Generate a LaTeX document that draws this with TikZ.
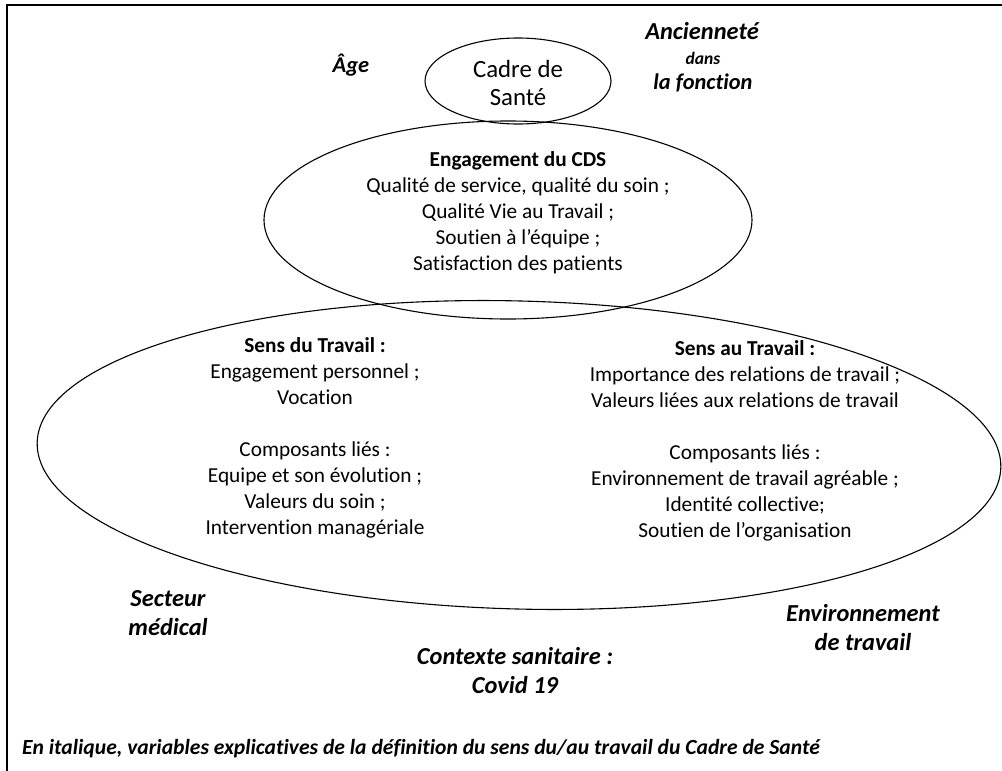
\documentclass[tikz,border=0pt]{standalone}
\usepackage{fontspec}
\setmainfont{Carlito}[Ligatures=NoCommon]
\begin{document}
\begin{tikzpicture}[x=1pt,y=-1pt,
  body/.style={align=center,font=\fontsize{21.3}{26}\selectfont,inner sep=0pt},
  var/.style={align=center,font=\fontsize{24.4}{29}\selectfont\bfseries\itshape,inner sep=0pt},
  ring/.style={draw=black,line width=1.1pt}]
\useasboundingbox (0,0) rectangle (1002,771);
\coordinate (tl) at (7,5);
\coordinate (tr) at (1002,5);
\coordinate (bl) at (7,771);
\draw[line width=2pt] (tr) -- (tl) -- (bl);
% ellipses
\draw[ring] (518,81) ellipse [x radius=93, y radius=43];
\draw[ring] (508,220) ellipse [x radius=244, y radius=99];
\draw[ring,rotate around={-1.5:(519,455)}] (519,455) ellipse [x radius=482, y radius=154];
% texts
\node[body,font=\fontsize{24.8}{28}\selectfont] (cds) at (518,83) {Cadre de\\Santé};
\node[body] (eng) at (518,213) {\textbf{Engagement du CDS}\\Qualité de service, qualité du soin ;\\Qualité Vie au Travail ;\\Soutien à l’équipe ;\\Satisfaction des patients};
\node[body] (sdt) at (315,438) {\textbf{Sens du Travail :}\\Engagement personnel ;\\Vocation\\[26pt]Composants liés :\\Equipe et son évolution ;\\Valeurs du soin ;\\Intervention managériale};
\node[body] (sat) at (745,441) {\textbf{Sens au Travail :}\\Importance des relations de travail ;\\Valeurs liées aux relations de travail\\[26pt]Composants liés :\\Environnement de travail agréable ;\\Identité collective;\\Soutien de l’organisation};
\node[var,font=\fontsize{22.5}{26}\selectfont\bfseries\itshape] (age) at (351,65) {Âge};
\node[var] (anc) at (702,31) {Ancienneté};
\node[font=\fontsize{17.5}{20}\selectfont\bfseries\itshape,inner sep=0pt] (dans) at (703,58) {dans};
\node[font=\fontsize{22.4}{26}\selectfont\bfseries\itshape,inner sep=0pt] (fonc) at (703,83) {la fonction};
\node[var] (sect) at (168,613) {Secteur\\médical};
\node[var] (env) at (863,628) {Environnement\\de travail};
\node[var] (ctx) at (515,671) {Contexte sanitaire :\\Covid 19};
\node[font=\fontsize{21.6}{26}\selectfont\bfseries\itshape,inner sep=0pt,anchor=west] (foot) at (22,749) {En italique, variables explicatives de la définition du sens du/au travail du Cadre de Santé};
\end{tikzpicture}
\end{document}
